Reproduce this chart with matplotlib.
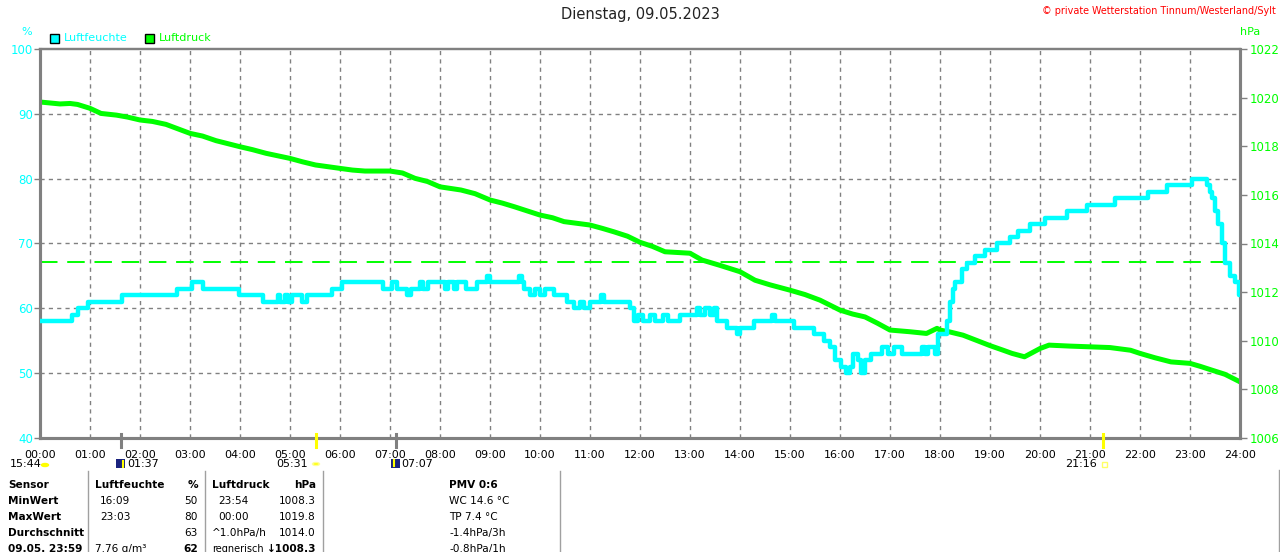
import matplotlib
matplotlib.use("Agg")
import matplotlib.pyplot as plt
from matplotlib.patches import Rectangle, Circle
from matplotlib.lines import Line2D
from matplotlib.transforms import blended_transform_factory

# ---------------- data ----------------
title = "Dienstag, 09.05.2023"
copyright_text = "© private Wetterstation Tinnum/Westerland/Sylt"
hour_labels = ["%02d:00" % h for h in range(25)]
hum_ticks = [40, 50, 60, 70, 80, 90, 100]
press_ticks = [1006, 1008, 1010, 1012, 1014, 1016, 1018, 1020, 1022]
press_ref_line = 1013.23

# humidity (%), step changes (hour, value)
hum_hours = [0.0, 0.64, 0.76, 0.96, 1.64, 2.74, 3.04, 3.26, 3.98, 4.46, 4.76, 4.80, 4.90, 4.96,
             5.04, 5.24, 5.34, 5.84, 6.04, 6.86, 7.04, 7.14, 7.34, 7.42, 7.60, 7.66, 7.76,
             8.10, 8.16, 8.28, 8.33, 8.53, 8.73, 8.95, 9.00, 9.58, 9.63, 9.67, 9.80, 9.90, 10.0,
             10.1, 10.27, 10.53, 10.67, 10.80, 10.87, 11.0, 11.22, 11.28, 11.80, 11.87, 11.95,
             12.05, 12.2, 12.3, 12.45, 12.55, 12.8, 13.13, 13.2, 13.3, 13.4, 13.47, 13.53, 13.73,
             13.93, 14.0, 14.27, 14.64, 14.70, 15.07, 15.47, 15.67, 15.80, 15.90, 16.02, 16.12,
             16.20, 16.26, 16.36, 16.42, 16.50, 16.62, 16.84, 16.95, 17.08, 17.24, 17.48, 17.64,
             17.70, 17.76, 17.90, 17.95, 18.14, 18.20, 18.26, 18.30, 18.44, 18.54, 18.70, 18.90,
             19.14, 19.40, 19.56, 19.80, 20.10, 20.54, 20.94, 21.50, 22.16, 22.54, 23.04, 23.34,
             23.40, 23.44, 23.50, 23.56, 23.64, 23.70, 23.80, 23.90, 23.98, 24.0]
hum_values = [58, 59, 60, 61, 62, 63, 64, 63, 62, 61, 62, 61, 62, 61,
              62, 61, 62, 63, 64, 63, 64, 63, 62, 63, 64, 63, 64,
              63, 64, 63, 64, 63, 64, 65, 64, 65, 64, 63, 62, 63, 62,
              63, 62, 61, 60, 61, 60, 61, 62, 61, 60, 58, 59,
              58, 59, 58, 59, 58, 59, 60, 59, 60, 59, 60, 58, 57,
              56, 57, 58, 59, 58, 57, 56, 55, 54, 52, 51, 50,
              51, 53, 52, 50, 52, 53, 54, 53, 54, 53, 53, 54,
              53, 54, 53, 56, 58, 61, 63, 64, 66, 67, 68, 69,
              70, 71, 72, 73, 74, 75, 76, 77, 78, 79, 80, 79,
              78, 77, 75, 73, 70, 67, 65, 64, 62, 62]

# air pressure (hPa)
press_hours = [0.0, 0.2, 0.4, 0.6, 0.75, 1.0, 1.22, 1.53, 1.75, 2.0, 2.25, 2.52, 3.0, 3.25,
               3.52, 4.0, 4.25, 4.52, 5.0, 5.25, 5.51, 6.0, 6.25, 6.5, 7.0, 7.25, 7.5, 7.75,
               8.0, 8.42, 8.7, 9.0, 9.25, 9.49, 10.0, 10.25, 10.48, 11.0, 11.25, 11.48, 11.75,
               12.0, 12.25, 12.5, 13.0, 13.24, 13.6, 14.0, 14.3, 14.6, 15.0, 15.3, 15.6, 16.0,
               16.25, 16.5, 16.75, 17.0, 17.4, 17.73, 17.94, 18.0, 18.2, 18.46, 18.75, 19.0,
               19.25, 19.44, 19.69, 20.0, 20.18, 20.6, 21.0, 21.4, 21.81, 22.0, 22.3, 22.62,
               23.0, 23.2, 23.44, 23.7, 24.0]
press_values = [1019.82, 1019.78, 1019.74, 1019.76, 1019.72, 1019.56, 1019.35, 1019.28,
                1019.20, 1019.08, 1019.02, 1018.90, 1018.53, 1018.42, 1018.23, 1017.98,
                1017.86, 1017.71, 1017.50, 1017.36, 1017.23, 1017.09, 1017.02, 1016.98,
                1016.98, 1016.90, 1016.68, 1016.55, 1016.33, 1016.20, 1016.05, 1015.79,
                1015.66, 1015.51, 1015.17, 1015.06, 1014.90, 1014.76, 1014.62, 1014.48,
                1014.30, 1014.05, 1013.88, 1013.66, 1013.60, 1013.32, 1013.10, 1012.84,
                1012.49, 1012.30, 1012.08, 1011.90, 1011.67, 1011.26, 1011.10, 1010.98,
                1010.72, 1010.44, 1010.37, 1010.30, 1010.51, 1010.44, 1010.36, 1010.23,
                1010.00, 1009.80, 1009.62, 1009.48, 1009.34, 1009.68, 1009.82, 1009.78,
                1009.75, 1009.72, 1009.61, 1009.48, 1009.30, 1009.13, 1009.07, 1008.95,
                1008.79, 1008.62, 1008.31]

# astro markers below the axis (hour, label)
moon_rise = (1 + 37 / 60, "01:37")
sun_rise = (5 + 31 / 60, "05:31")
moon_set = (7 + 7 / 60, "07:07")
sun_set = (21 + 16 / 60, "21:16")

# table
row_labels = ["Sensor", "MinWert", "MaxWert", "Durchschnitt", "09.05. 23:59"]
hum_col_times = ["Luftfeuchte", "16:09", "23:03", "", "7.76 g/m³"]
hum_col_vals = ["%", "50", "80", "63", "62"]
press_col_times = ["Luftdruck", "23:54", "00:00", "^1.0hPa/h", "regnerisch"]
press_col_vals = ["hPa", "1008.3", "1019.8", "1014.0", "↓1008.3"]
extra_col = ["PMV 0:6", "WC 14.6 °C", "TP 7.4 °C", "-1.4hPa/3h", "-0.8hPa/1h"]

# ---------------- style ----------------
W, H = 1280, 552
CYAN = "#00ffff"
GREEN = "#00ff00"
GRAY = "#808080"
FS = 8
TFS = 7.6

def fx(x):
    return x / W

def fy(y):
    return 1 - y / H

fig = plt.figure(figsize=(W / 100, H / 100), dpi=100)
fig.patch.set_facecolor("white")
ax = fig.add_axes([fx(40), fy(438), 1200 / W, (438 - 49) / H])   # pressure axes
ax2 = ax.twinx()                                                  # humidity axes (on top)

ax.set_xlim(0, 24)
ax.set_ylim(1006, 1022)
ax2.set_ylim(40, 100)

# grid (below curves)
for h in range(1, 24):
    ax.axvline(h, color=GRAY, lw=1, ls=(0, (3, 3)), zorder=0)
btrans = blended_transform_factory(ax.transAxes, ax2.transData)
for v in hum_ticks[1:-1]:
    ax.add_line(Line2D([0, 1], [v, v], transform=btrans, color=GRAY, lw=1,
                       ls=(0, (3, 3)), zorder=0))

# reference line
ax.axhline(press_ref_line, xmin=0, xmax=23.8 / 24, color=GREEN, lw=1.4,
           ls=(0, (9, 5)), zorder=1)

# curves
ax.plot(press_hours, press_values, color=GREEN, lw=3.6, zorder=2)
ax2.step(hum_hours, hum_values, where="post", color=CYAN, lw=3.2, zorder=3)

# axes and ticks
ax.yaxis.tick_right()
ax.set_yticks(press_ticks)
ax.set_yticklabels([str(t) for t in press_ticks])
ax.tick_params(axis="y", colors=GRAY, labelcolor=GREEN, labelsize=FS + 0.5, length=5, width=1, pad=2)
ax2.yaxis.tick_left()
ax2.set_yticks(hum_ticks)
ax2.set_yticklabels([str(t) for t in hum_ticks])
ax2.tick_params(axis="y", colors=GRAY, labelcolor=CYAN, labelsize=FS + 0.5, length=4, width=1, pad=1)
ax.set_xticks(range(25))
ax.set_xticklabels(hour_labels)
ax.tick_params(axis="x", length=0, labelsize=FS, labelcolor="black", pad=9)
ax2.tick_params(axis="x", length=0)

for a in (ax, ax2):
    for s in a.spines.values():
        s.set_color(GRAY)
    a.spines["left"].set_linewidth(2.2)
    a.spines["bottom"].set_linewidth(2.2)
    a.spines["right"].set_linewidth(2.2)
    a.spines["top"].set_linewidth(1.6)

# titles / labels
fig.text(0.5, fy(15), title, ha="center", va="center", fontsize=10.5, color="#222222")
fig.text(fx(1276), fy(11), copyright_text, ha="right", va="center", fontsize=6.9, color="red")
fig.text(fx(27), fy(32), "%", ha="center", va="center", fontsize=FS, color=CYAN)
fig.text(fx(1250), fy(32), "hPa", ha="center", va="center", fontsize=FS, color=GREEN)

# legend
fig.add_artist(Rectangle((fx(50), fy(43)), 9 / W, 9 / H, transform=fig.transFigure,
                         facecolor=CYAN, edgecolor="black", lw=1))
fig.text(fx(64), fy(38), "Luftfeuchte", ha="left", va="center", fontsize=FS, color=CYAN)
fig.add_artist(Rectangle((fx(145), fy(43)), 9 / W, 9 / H, transform=fig.transFigure,
                         facecolor=GREEN, edgecolor="black", lw=1))
fig.text(fx(159), fy(38), "Luftdruck", ha="left", va="center", fontsize=FS, color=GREEN)

# astro markers
xt = blended_transform_factory(ax.transData, fig.transFigure)
for (hr, lab), col in [(moon_rise, GRAY), (sun_rise, "yellow"), (moon_set, GRAY), (sun_set, "yellow")]:
    fig.add_artist(Line2D([hr, hr], [fy(434), fy(447)], transform=xt, color=col, lw=2.2))

fig.text(fx(10), fy(464), "15:44", ha="left", va="center", fontsize=FS, color="black")
fig.add_artist(Circle((fx(45), fy(465)), 3.5 / W, transform=fig.transFigure, color="yellow"))
# moon rise
fig.add_artist(Rectangle((fx(116), fy(468)), 9 / W, 9 / H, transform=fig.transFigure,
                         facecolor="#1a237e", edgecolor="none"))
fig.add_artist(Line2D([fx(123), fx(123)], [fy(461), fy(467)], transform=fig.transFigure,
                      color="yellow", lw=1.5))
fig.text(fx(127), fy(464), moon_rise[1], ha="left", va="center", fontsize=FS, color="black")
# sun rise
fig.text(fx(308), fy(464), sun_rise[1], ha="right", va="center", fontsize=FS, color="black")
fig.add_artist(Circle((fx(316), fy(464)), 3.5 / W, transform=fig.transFigure,
                      facecolor="yellow", edgecolor="#ffff99", lw=1))
# moon set
fig.add_artist(Rectangle((fx(391), fy(468)), 9 / W, 9 / H, transform=fig.transFigure,
                         facecolor="#1a237e", edgecolor="none"))
fig.add_artist(Line2D([fx(394), fx(394)], [fy(460), fy(466)], transform=fig.transFigure,
                      color="yellow", lw=1.5))
fig.text(fx(401), fy(464), moon_set[1], ha="left", va="center", fontsize=FS, color="black")
# sun set
fig.text(fx(1097), fy(464), sun_set[1], ha="right", va="center", fontsize=FS, color="black")
fig.add_artist(Rectangle((fx(1102), fy(467)), 5 / W, 5 / H, transform=fig.transFigure,
                         facecolor="none", edgecolor="#ffff66", lw=1))

# table
for xv in (88, 205, 323, 560):
    fig.add_artist(Line2D([fx(xv), fx(xv)], [fy(471), fy(552)], transform=fig.transFigure,
                          color="#a0a0a0", lw=1))
fig.add_artist(Line2D([fx(1279), fx(1279)], [fy(470), fy(552)], transform=fig.transFigure,
                      color="#a0a0a0", lw=1))
row_y = [485, 501, 517, 533, 549]
for i, yv in enumerate(row_y):
    fig.text(fx(8), fy(yv), row_labels[i], ha="left", va="center", fontsize=TFS,
             fontweight="bold", color="black")
    head = (i == 0)
    fig.text(fx(95 if head or i == 4 else 100), fy(yv), hum_col_times[i], ha="left", va="center",
             fontsize=TFS, fontweight="bold" if head else "normal", color="black")
    fig.text(fx(198), fy(yv), hum_col_vals[i], ha="right", va="center", fontsize=TFS,
             fontweight="bold" if head or i == 4 else "normal", color="black")
    fig.text(fx(212 if head or i >= 3 else 218), fy(yv), press_col_times[i], ha="left", va="center",
             fontsize=TFS if i != 4 else 7.0, fontweight="bold" if head else "normal", color="black")
    fig.text(fx(316), fy(yv), press_col_vals[i], ha="right", va="center", fontsize=TFS,
             fontweight="bold" if head or i == 4 else "normal", color="black")
    fig.text(fx(449), fy(yv), extra_col[i], ha="left", va="center", fontsize=TFS,
             fontweight="bold" if head else "normal", color="black")

fig.savefig("out.png", dpi=100, facecolor="white")
